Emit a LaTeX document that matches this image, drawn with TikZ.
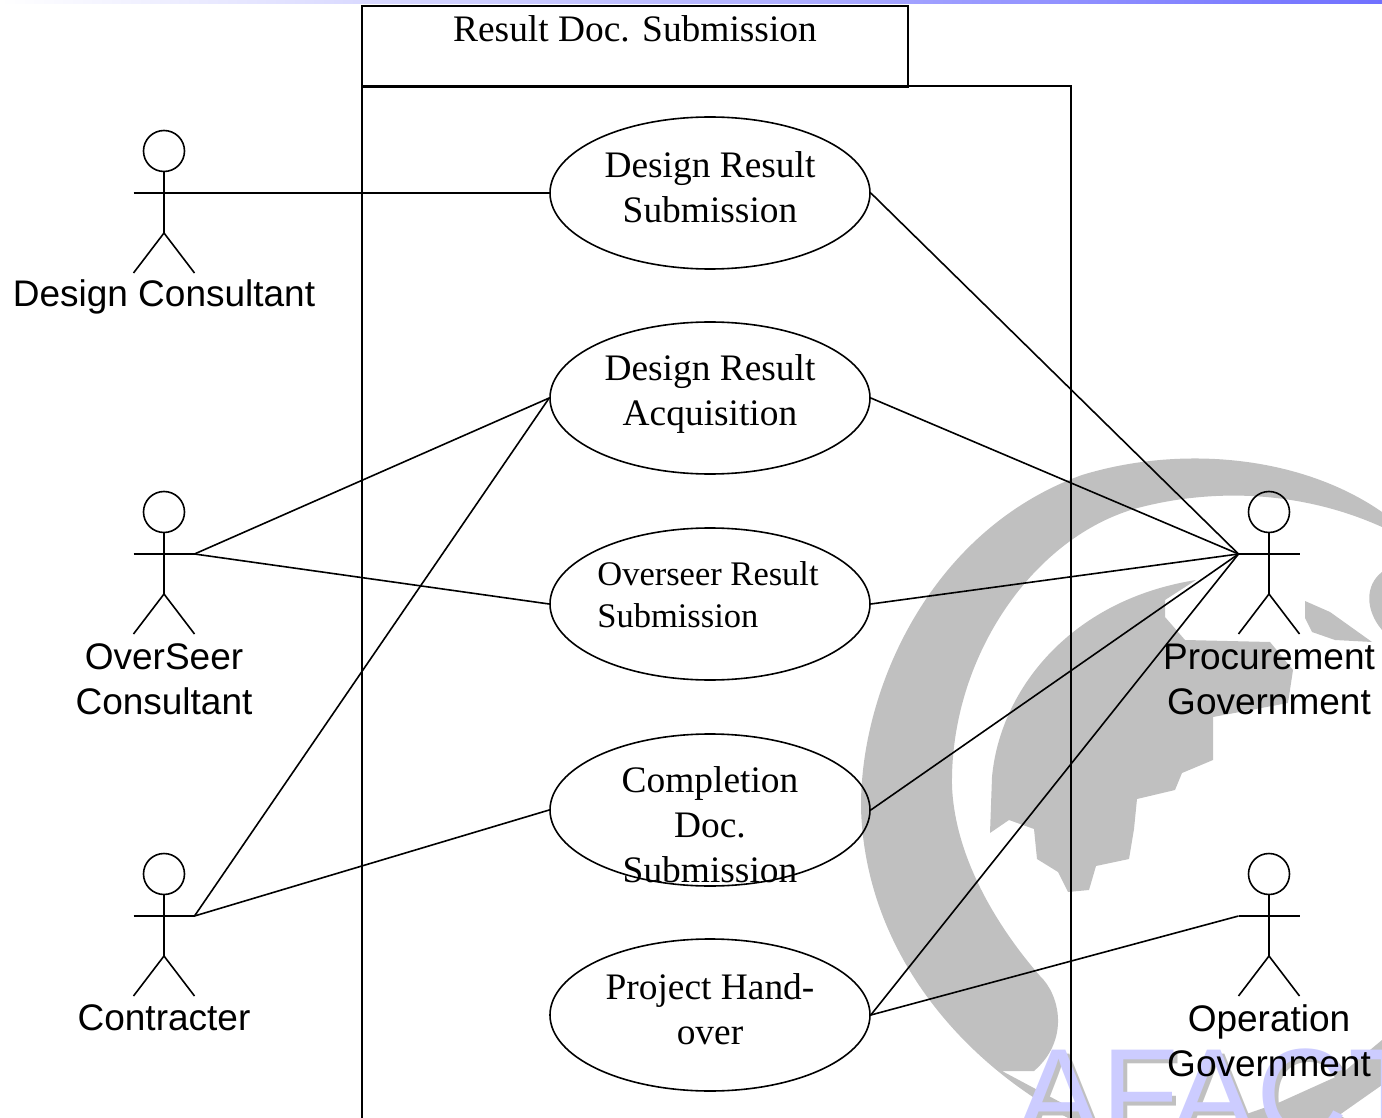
\documentclass[tikz,border=0pt]{standalone}
\usepackage{fontspec}
\setmainfont{Liberation Serif}
\newfontfamily\actorfont{Liberation Sans}
\usetikzlibrary{shapes.geometric}
\definecolor{logogray}{RGB}{192,192,192}
\definecolor{stripblue}{RGB}{112,112,255}
\definecolor{afactblue}{RGB}{204,204,255}
\tikzset{
    usecase/.style={ellipse, draw, link, minimum width=160pt, minimum height=76pt, inner sep=0pt},
    casetext/.style={align=center, font=\fontsize{18.7}{22.5}\selectfont},
    actorlabel/.style={align=center, font=\actorfont\fontsize{18.5}{22.5}\selectfont},
    afacttext/.style={anchor=base west, inner sep=0pt, font=\actorfont\fontsize{63.5}{63.5}\selectfont},
    link/.style={line width=0.8pt}
}
% one stick figure, #1 = name, (#2,#3) = middle of the arms
\newcommand{\stickman}[3]{
    \node[circle, draw, link, minimum size=20.5pt, inner sep=0pt] (#1head) at (#2,#3-42) {};
    \coordinate (#1l) at (#2-30.5,#3);
    \coordinate (#1r) at (#2+30.5,#3);
    \coordinate (#1hip) at (#2,#3+40);
    \draw[link] (#1head) -- (#1hip);
    \draw[link] (#1l) -- (#1r);
    \draw[link] (#2-30.5,#3+80) -- (#1hip) -- (#2+30.5,#3+80);
}
\begin{document}
\begin{tikzpicture}[x=0.5pt,y=-0.5pt]
    \useasboundingbox (0,0) rectangle (1382,1118);
    \begin{scope}
        \clip (0,0) rectangle (1382,1118);
        \shade[left color=white, right color=stripblue] (0,0) rectangle (1382,4);

        % logo behind everything
        \fill[logogray] (861,808) .. controls (860,690) and (930,530) .. (1082,475)
            .. controls (1180,445) and (1300,455) .. (1382,512) -- (1382,527)
            .. controls (1300,490) and (1210,488) .. (1134,509)
            .. controls (1030,540) and (950,660) .. (952,786)
            .. controls (955,860) and (1000,930) .. (1040,976)
            .. controls (1060,995) and (1070,1040) .. (1034,1071)
            -- (1002,1071) -- (1090,1118) -- (1068,1118)
            .. controls (960,1060) and (865,950) .. (861,808) -- cycle;
        \fill[logogray] (1235,1118) -- (1278,1103) -- (1340,1075) -- (1382,1040)
            -- (1382,1085) -- (1335,1118) -- cycle;
        \fill[logogray] (990,833) -- (992,777) .. controls (1000,690) and (1070,600) .. (1196,580)
            -- (1165,600) -- (1165,617) -- (1185,640) -- (1270,642) -- (1293,670) -- (1288,703) -- (1213,717)
            -- (1213,760) -- (1182,773) -- (1175,790) -- (1137,799) -- (1134,829)
            -- (1129,859) -- (1096,866) -- (1089,890) -- (1068,892) -- (1058,872)
            -- (1037,859) -- (1034,829) -- (1009,820) -- cycle;
        \fill[logogray] (1305,601) -- (1330,612) -- (1372,642) -- (1335,640) -- (1312,632) -- (1305,618) -- cycle;
        \fill[logogray] (1382,572) .. controls (1365,585) and (1365,610) .. (1382,630) -- cycle;

        \node[afacttext, text=logogray] (afactshadow) at (1020,1141) {AFACT};
        \node[afacttext, text=afactblue] (afact) at (1016,1137) {AFACT};
    \end{scope}

    % boundary
    \node[draw, link, minimum width=273pt, minimum height=40.5pt, inner sep=0pt, anchor=north west] (tab) at (361,5) {};
    \node[casetext, anchor=base] (tabtext) at (635,42) {Result Doc. Submission};
    \coordinate (frameb) at (362,1118);
    \coordinate (framec) at (1071,1118);
    \draw[link] (362,86) -- (frameb);
    \draw[link] (362,86) -- (1071,86) -- (framec);

    \node[usecase] (uc1) at (710,193) {};
    \node[usecase] (uc2) at (710,398) {};
    \node[usecase] (uc3) at (710,604) {};
    \node[usecase] (uc4) at (710,810) {};
    \node[usecase] (uc5) at (710,1015) {};

    \node[casetext] (uc1text) at (710,187) {Design Result\\Submission};
    \node[casetext] (uc2text) at (710,394) {Design Result\\Acquisition};
    \node[casetext, align=left, font=\fontsize{17.25}{21}\selectfont] (uc3text) at (708,595) {Overseer Result\\Submission};
    \node[casetext] (uc4text) at (710,825) {Completion\\Doc.\\Submission};
    \node[casetext] (uc5text) at (710,1009) {Project Hand-\\over};

    \stickman{dc}{164}{193}
    \stickman{oc}{164}{554}
    \stickman{ct}{164}{916}
    \stickman{pg}{1269}{554}
    \stickman{og}{1269}{916}

    \node[actorlabel] (dclabel) at (164,297) {Design Consultant};
    \node[actorlabel] (oclabel) at (164,679) {OverSeer\\Consultant};
    \node[actorlabel] (ctlabel) at (164,1018) {Contracter};
    \node[actorlabel] (pglabel) at (1269,679) {Procurement\\Government};
    \node[actorlabel] (oglabel) at (1269,1041) {Operation\\Government};

    \draw[link] (dcr) -- (uc1.west);
    \draw[link] (ocr) -- (uc2.west);
    \draw[link] (ocr) -- (uc3.west);
    \draw[link] (ctr) -- (uc2.west);
    \draw[link] (ctr) -- (uc4.west);
    \draw[link] (uc1.east) -- (pgl);
    \draw[link] (uc2.east) -- (pgl);
    \draw[link] (uc3.east) -- (pgl);
    \draw[link] (uc4.east) -- (pgl);
    \draw[link] (uc5.east) -- (pgl);
    \draw[link] (uc5.east) -- (ogl);
\end{tikzpicture}
\end{document}
